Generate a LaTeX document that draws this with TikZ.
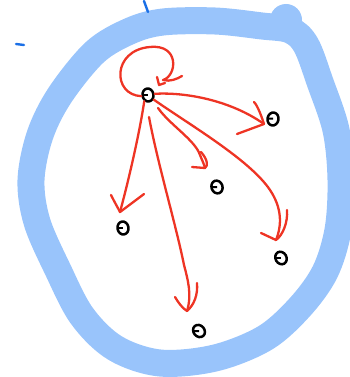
\documentclass[tikz,border=0pt]{standalone}
\usetikzlibrary{arrows.meta,shapes.geometric}
\definecolor{band}{HTML}{99C4FB}
\definecolor{ink}{HTML}{EE3424}
\definecolor{mark}{HTML}{1A6FE6}
\tikzset{
  dot/.style={draw=black, line width=2.5pt, ellipse, minimum width=11pt, minimum height=13pt, inner sep=0pt,
    path picture={\draw[line width=2pt] (path picture bounding box.west) -- (path picture bounding box.center);}},
  redline/.style={draw=ink, line width=2.3pt, line cap=round, line join=round},
  bandline/.style={draw=band, line width=27pt, line cap=round, line join=round},
  marker/.style={draw=mark, line width=2.4pt, line cap=round}
}
\begin{document}
\begin{tikzpicture}[x=1pt,y=-1pt]
\useasboundingbox (0,0) rectangle (349,377);
% blue band
\draw[bandline] plot[smooth cycle, tension=0.55] coordinates {
 (163,22) (215,21) (262,26) (290,30) (306,45) (320,82) (336,130) (341,180) (338,230) (325,272)
 (300,307) (265,338) (215,358) (160,363) (115,348) (82,316) (58,270) (37,222) (31,180) (40,135) (60,95) (95,52) (130,31)};
\fill[band] (286,20) circle (16);
% small blue marks
\draw[marker] (144,1) -- (148,12);
\draw[marker] (16,44) -- (24,45);
% nodes
\node[dot, rotate=10] (c) at (148,95) {};
\node[dot, rotate=-10] (a) at (273,119) {};
\node[dot, rotate=20] (b) at (217,187) {};
\node[dot, rotate=10] (d) at (123,228) {};
\node[dot, rotate=30] (e) at (281,258) {};
\node[dot, rotate=40] (f) at (199,331) {};
% self loop
\draw[redline] (c.west) .. controls (112,95) and (112,50) .. (150,47) .. controls (180,44) and (177,76) .. (163,80) .. controls (170,82) and (177,79) .. (182,76);
\draw[redline] (157,77) -- (159,85) -- (165,83);
% to a
\draw[redline] (c.east) .. controls (185,92) and (230,100) .. (264,124);
\draw[redline] (254,102) .. controls (258,106) and (262,118) .. (264,124) -- (237,134);
% to b
\coordinate (bt) at (205,168);
\draw[redline] (158,108) .. controls (170,125) and (195,140) .. (200,155) .. controls (202,160) and (204,164) .. (bt);
\draw[redline] (201,152) .. controls (208,160) and (208,166) .. (bt) -- (192,167);
% to d
\draw[redline] (c.south west) .. controls (140,130) and (130,175) .. (120,212);
\draw[redline] (111,195) .. controls (115,203) and (118,208) .. (120,212) -- (144,194);
% to f
\draw[redline] (149,117) .. controls (158,165) and (176,225) .. (184,265) .. controls (188,280) and (192,295) .. (187,311);
\draw[redline] (197,283) .. controls (198,295) and (194,305) .. (187,311) .. controls (182,308) and (178,302) .. (175,297);
% to e
\draw[redline] (c.south east) .. controls (190,125) and (250,160) .. (270,190) .. controls (282,208) and (282,225) .. (276,240);
\draw[redline] (287,210) .. controls (288,222) and (283,235) .. (276,240) -- (261,233);
\end{tikzpicture}
\end{document}
